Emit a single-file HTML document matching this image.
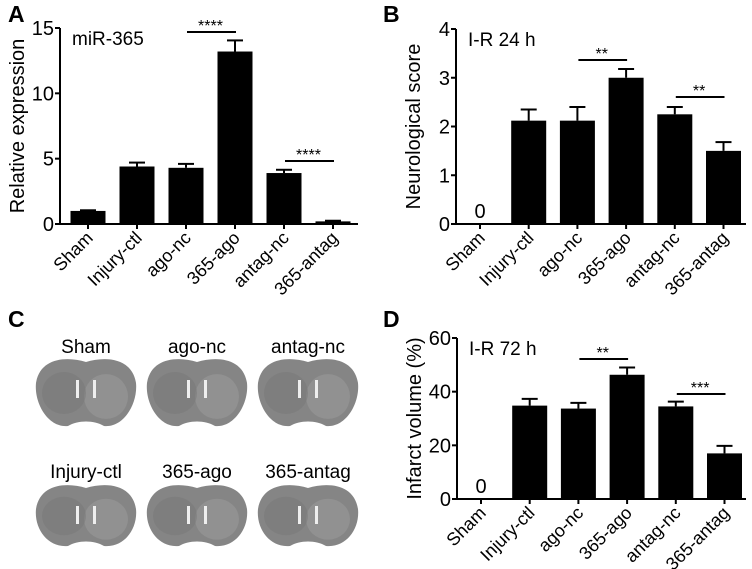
<!DOCTYPE html>
<html><head><meta charset="utf-8"><style>
html,body{margin:0;padding:0;background:#fff}
svg{display:block;font-family:"Liberation Sans",Arial,sans-serif}
</style></head><body>
<svg id="fig" width="752" height="569" viewBox="0 0 752 569" xmlns="http://www.w3.org/2000/svg">
<text x="8" y="22" font-size="23" font-weight="bold">A</text>
<text x="383" y="22" font-size="23" font-weight="bold">B</text>
<text x="8" y="327" font-size="23" font-weight="bold">C</text>
<text x="383" y="327" font-size="23" font-weight="bold">D</text>
<g id="brains"></g>
</svg>
<script>
const categories = ["Sham","Injury-ctl","ago-nc","365-ago","antag-nc","365-antag"];
const valuesA = [1.0, 4.4, 4.3, 13.2, 3.9, 0.2];
const errorsA = [0.05, 0.3, 0.3, 0.85, 0.25, 0.05];
const ticksA = [0,5,10,15];
const valuesB = [0, 2.12, 2.12, 3.0, 2.25, 1.5];
const errorsB = [0, 0.23, 0.28, 0.18, 0.15, 0.18];
const ticksB = [0,1,2,3,4];
const valuesD = [0, 34.8, 33.7, 46.3, 34.5, 17.0];
const errorsD = [0, 2.5, 2.1, 2.7, 1.8, 2.8];
const ticksD = [0,20,40,60];
const sigA = [[2,3,"****"],[4,5,"****"]];
const sigB = [[2,3,"**"],[4,5,"**"]];
const sigD = [[2,3,"**"],[4,5,"***"]];
const brainLabels = ["Sham","ago-nc","antag-nc","Injury-ctl","365-ago","365-antag"];

const NS="http://www.w3.org/2000/svg";
const svg=document.getElementById('fig');
function mk(tag,attrs,parent){const e=document.createElementNS(NS,tag);for(const k in attrs)e.setAttribute(k,attrs[k]);(parent||svg).appendChild(e);return e;}

function chart(o){
  const g=mk('g',{});
  
  
  const y=v=>o.y0-(v/o.ymax)*(o.y0-o.ytop);
  const x=i=>o.x0+o.first+i*o.step;
  const ax=mk('path',{d:`M${o.x0},${o.ytop} V${o.y0} H${o.xend}`,stroke:'#000','stroke-width':2,fill:'none'},g);
  
  
  o.ticks.forEach(t=>{
    mk('line',{x1:o.x0-5,x2:o.x0,y1:y(t),y2:y(t),stroke:'#000','stroke-width':2},g);
    const tl=mk('text',{x:o.x0-6,y:y(t)+7,'font-size':20,'text-anchor':'end'},g);
    tl.textContent=t;
    
    
  });
  const yt=mk('text',{transform:`translate(${o.x0-36},${(o.y0+o.ytop)/2}) rotate(-90)`,'font-size':20,'text-anchor':'middle'},g);
  yt.textContent=o.ytitle;
  
  
  const st=mk('text',{x:o.x0+12,y:o.ytop+17,'font-size':19},g);
  st.textContent=o.sub;
  
  
  categories.forEach((c,i)=>{
    const cx=x(i);
    mk('line',{x1:cx,x2:cx,y1:o.y0,y2:o.y0+5,stroke:'#000','stroke-width':2},g);
    const v=o.values[i];
    if(v>0){
      const e=v+o.errors[i];
      mk('line',{x1:cx,x2:cx,y1:y(e),y2:y(v),stroke:'#000','stroke-width':2},g);
      mk('line',{x1:cx-8,x2:cx+8,y1:y(e),y2:y(e),stroke:'#000','stroke-width':2},g);
      const b=mk('rect',{x:cx-o.bw/2,y:y(v),width:o.bw,height:o.y0-y(v),fill:'#000'},g);
      
      
    } else {
      const z=mk('text',{x:cx,y:o.y0-6,'font-size':20,'text-anchor':'middle'},g);
      z.textContent='0';
      
      
    }
    const xl=mk('text',{transform:`translate(${cx+6},${o.y0+15}) rotate(-45)`,'font-size':18,'text-anchor':'end'},g);
    xl.textContent=c;
    
    
  });
  o.sig.forEach((s,k)=>{
    const ly=o.sigY[k];
    const sl=mk('line',{x1:x(s[0])+1,x2:x(s[1])+1,y1:ly,y2:ly,stroke:'#000','stroke-width':2},g);
    
    
    const ss=mk('text',{x:(x(s[0])+x(s[1]))/2,y:ly-1,'font-size':16,'text-anchor':'middle'},g);
    ss.textContent=s[2];
    
    
  });
}
chart({name:'chart-a-mir365',x0:60,xend:358,y0:224,ytop:28,ymax:15,first:28,step:49,bw:35,ticks:ticksA,values:valuesA,errors:errorsA,sig:sigA,sigY:[32,161],ytitle:'Relative expression',sub:'miR-365'});
chart({name:'chart-b-neuro-score',x0:456,xend:746,y0:224,ytop:29,ymax:4,first:24,step:48.7,bw:35,ticks:ticksB,values:valuesB,errors:errorsB,sig:sigB,sigY:[60,97],ytitle:'Neurological score',sub:'I-R 24 h'});
chart({name:'chart-d-infarct-volume',x0:457,xend:746,y0:499,ytop:338,ymax:60,first:24,step:48.7,bw:35,ticks:ticksD,values:valuesD,errors:errorsD,sig:sigD,sigY:[359,394],ytitle:'Infarct volume (%)',sub:'I-R 72 h'});

const bg=document.getElementById('brains');
const bcx=[86,197,308], rowTop=[358,484], rowH=[70,64], labY=[353,478];
brainLabels.forEach((l,i)=>{
  const r=Math.floor(i/3), c=i%3, cx=bcx[c], t=rowTop[r], h=rowH[r];
  const gg=mk('g',{},bg);
  
  
  mk('path',{d:`M${cx},${t+4} C${cx-20},${t-2} ${cx-46},${t} ${cx-50},${t+25} C${cx-52},${t+45} ${cx-38},${t+h} ${cx-18},${t+h-2} C${cx-8},${t+h-8} ${cx+8},${t+h-8} ${cx+18},${t+h-2} C${cx+38},${t+h} ${cx+52},${t+45} ${cx+50},${t+25} C${cx+46},${t} ${cx+20},${t-2} ${cx},${t+4} Z`,fill:'#858585'},gg);
  mk('ellipse',{cx:cx+20,cy:t+h*0.55,rx:22,ry:h*0.32,fill:'#9a9a9a',opacity:0.6},gg);
  mk('ellipse',{cx:cx-22,cy:t+h*0.5,rx:22,ry:h*0.3,fill:'#777',opacity:0.5},gg);
  mk('rect',{x:cx-10,y:t+22,width:3,height:18,fill:'#eee'},gg);
  mk('rect',{x:cx+7,y:t+22,width:3,height:18,fill:'#eee'},gg);
  const tx=mk('text',{x:cx,y:labY[r],'font-size':19,'text-anchor':'middle'},bg);
  tx.textContent=l;
  
  
});
</script>
</body></html>
